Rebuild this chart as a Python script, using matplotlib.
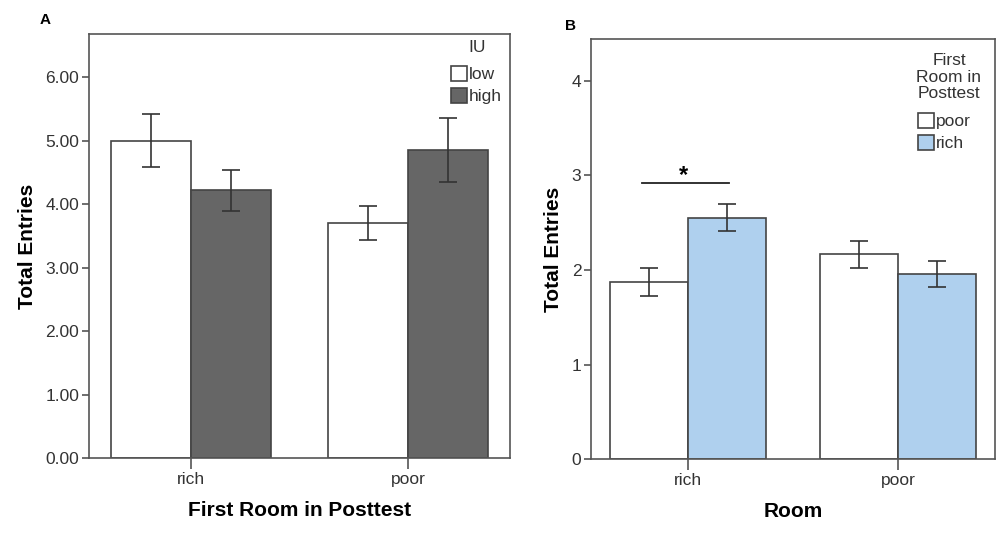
import matplotlib
matplotlib.use("Agg")
import matplotlib.pyplot as plt
import numpy as np

plt.rcParams['font.family'] = ['Liberation Sans', 'DejaVu Sans']

# Panel A data: total entries by first room and IU group
rooms_a = ['rich', 'poor']
iu_groups = ['low', 'high']
a_low = [5.00, 3.70]
a_low_lo = [4.58, 3.43]
a_low_hi = [5.41, 3.97]
a_high = [4.22, 4.85]
a_high_lo = [3.89, 4.34]
a_high_hi = [4.54, 5.36]

# Panel B data: total entries by room and first room in posttest
rooms_b = ['rich', 'poor']
first_room = ['poor', 'rich']
b_poor = [1.87, 2.17]
b_poor_lo = [1.72, 2.02]
b_poor_hi = [2.02, 2.31]
b_rich = [2.55, 1.96]
b_rich_lo = [2.41, 1.82]
b_rich_hi = [2.70, 2.10]

txt = '#333333'
edge = '#444444'
width = 0.37
W, H = 1000, 537

fig = plt.figure(figsize=(10, 5.37), dpi=100)
ax1 = fig.add_axes([0.089, 0.147, 0.421, 0.790])
ax2 = fig.add_axes([0.591, 0.145, 0.404, 0.782])


def draw_panel(ax, cats, v1, lo1, hi1, v2, lo2, hi2, c1, c2, labels, title, leg_xy, title_xy):
    x = np.arange(len(cats))
    v1, v2 = np.array(v1), np.array(v2)
    ax.bar(x - width / 2, v1, width, color=c1, edgecolor=edge, lw=1.2, label=labels[0])
    ax.bar(x + width / 2, v2, width, color=c2, edgecolor=edge, lw=1.2, label=labels[1])
    err1 = [v1 - np.array(lo1), np.array(hi1) - v1]
    err2 = [v2 - np.array(lo2), np.array(hi2) - v2]
    ax.errorbar(x - width / 2, v1, yerr=err1, fmt='none', ecolor='#333333', elinewidth=1.2, capsize=6.5, capthick=1.2)
    ax.errorbar(x + width / 2, v2, yerr=err2, fmt='none', ecolor='#333333', elinewidth=1.2, capsize=6.5, capthick=1.2)
    ax.set_xticks(x)
    ax.set_xticklabels(cats)
    for s in ax.spines.values():
        s.set_color('#555555')
        s.set_linewidth(1.2)
    ax.tick_params(axis='both', colors='#555555', labelcolor=txt, labelsize=12.5, direction='out')
    ax.tick_params(axis='x', length=8, width=1.2, pad=2)
    ax.tick_params(axis='y', length=5, width=1.2, pad=2)
    # legend entries placed by their top-left corner (pixels)
    leg = ax.legend(loc='upper left', bbox_to_anchor=(leg_xy[0] / W, 1 - leg_xy[1] / H),
                    bbox_transform=fig.transFigure, frameon=False, fontsize=12.5,
                    handlelength=0.95, handleheight=0.95, handletextpad=0.1, labelspacing=0.3,
                    borderpad=0, borderaxespad=0)
    for t in leg.get_texts():
        t.set_color(txt)
    fig.text(title_xy[0] / W, 1 - title_xy[1] / H, title, ha='center', va='center',
             fontsize=12.5, color=txt, linespacing=1.12)
    ax.set_ylabel('Total Entries', fontsize=15, fontweight='bold', color='black', labelpad=6)


draw_panel(ax1, rooms_a, a_low, a_low_lo, a_low_hi, a_high, a_high_lo, a_high_hi,
           'white', '#666666', iu_groups, 'IU', (451, 66), (477, 48))
ax1.set_xlim(-0.47, 1.47)
ax1.set_ylim(0, 6.68)
ax1.set_yticks(np.arange(0, 7, 1))
ax1.set_yticklabels([f'{v:.2f}' for v in range(7)])
ax1.set_xlabel('First Room in Posttest', fontsize=15, fontweight='bold', color='black', labelpad=10)

draw_panel(ax2, rooms_b, b_poor, b_poor_lo, b_poor_hi, b_rich, b_rich_lo, b_rich_hi,
           'white', '#afd0ee', first_room, 'First\nRoom in\nPosttest', (918, 113), (949, 77))
ax2.set_xlim(-0.46, 1.46)
ax2.set_ylim(0, 4.44)
ax2.set_yticks(np.arange(0, 5, 1))
ax2.set_xlabel('Room', fontsize=15, fontweight='bold', color='black', labelpad=10)

# significance marker over rich room
ax2.plot([-0.22, 0.195], [2.92, 2.92], color='#222222', lw=1.3)
ax2.text(-0.02, 3.0, '*', ha='center', va='center', fontsize=17, fontweight='bold', color='black')

fig.text(0.04, 0.955, 'A', fontsize=11, fontweight='bold')
fig.text(0.565, 0.945, 'B', fontsize=11, fontweight='bold')

fig.savefig('out.png', dpi=100, facecolor='white')
